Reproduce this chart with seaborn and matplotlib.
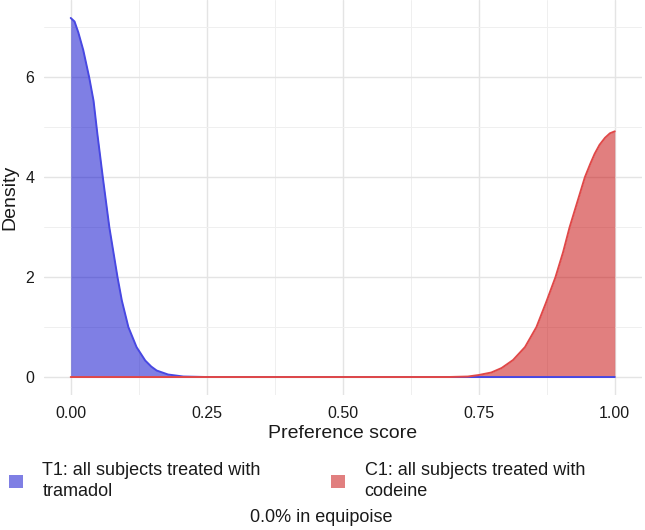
import matplotlib.pyplot as plt
import pandas as pd
import seaborn as sns
from matplotlib.patches import Patch

# density curves
score_t1 = [0.0, 0.007, 0.014, 0.023, 0.034, 0.042, 0.049, 0.059, 0.071, 0.086,
            0.094, 0.106, 0.121, 0.137, 0.148, 0.158, 0.179, 0.207, 0.25, 0.5, 0.75, 1.0]
density_t1 = [7.19, 7.12, 6.9, 6.55, 6.0, 5.53, 4.87, 4.0, 3.0, 2.0,
              1.53, 1.0, 0.6, 0.33, 0.21, 0.13, 0.05, 0.01, 0.0, 0.0, 0.0, 0.0]

score_c1 = [0.0, 0.25, 0.5, 0.694, 0.73, 0.75, 0.773, 0.792, 0.813, 0.835, 0.856,
            0.874, 0.891, 0.905, 0.917, 0.931, 0.945, 0.955, 0.963, 0.972, 0.982, 0.991, 1.0]
density_c1 = [0.0, 0.0, 0.0, 0.0, 0.01, 0.04, 0.09, 0.18, 0.34, 0.6, 1.0,
              1.5, 2.0, 2.5, 3.0, 3.5, 4.0, 4.27, 4.47, 4.65, 4.79, 4.88, 4.92]

groups = ["T1: all subjects treated with\ntramadol", "C1: all subjects treated with\ncodeine"]
fill_colors = ["#0000CB", "#C50000"]
line_colors = ["#4848E2", "#E04848"]
x_ticks = [0.0, 0.25, 0.5, 0.75, 1.0]
x_tick_labels = ["0.00", "0.25", "0.50", "0.75", "1.00"]
y_ticks = [0, 2, 4, 6]
note = "0.0% in equipoise"

sns.set_style("white")
plt.rcParams["font.family"] = ["Liberation Sans", "DejaVu Sans"]

df = pd.concat([
    pd.DataFrame({"score": score_t1, "density": density_t1, "group": groups[0]}),
    pd.DataFrame({"score": score_c1, "density": density_c1, "group": groups[1]}),
])

fig = plt.figure(figsize=(6.45, 5.3), dpi=100)
ax = fig.add_axes([43.5 / 645, 1 - 395 / 530, (642 - 43.5) / 645, 395 / 530])

for grp, fc in zip(groups, fill_colors):
    sub = df[df["group"] == grp]
    ax.fill_between(sub["score"], sub["density"], color=fc, alpha=0.5, lw=0)

sns.lineplot(data=df, x="score", y="density", hue="group", hue_order=groups,
             palette=dict(zip(groups, line_colors)), linewidth=1.4,
             legend=False, sort=False, ax=ax)

ax.set_xlim(-0.05, 1.05)
ax.set_ylim(-0.36, 7.55)
ax.set_xticks(x_ticks)
ax.set_xticklabels(x_tick_labels)
ax.set_yticks(y_ticks)
ax.set_xticks([0.125, 0.375, 0.625, 0.875], minor=True)
ax.set_yticks([1, 3, 5, 7], minor=True)
ax.set_axisbelow(True)
ax.grid(which="major", color="#E4E4E4", lw=1.0)
ax.grid(which="minor", color="#EFEFEF", lw=0.7)
for s in ax.spines.values():
    s.set_visible(False)
ax.tick_params(which="major", length=3.6, width=0.9, color="#333333",
               labelsize=11.5, labelcolor="#1A1A1A")
ax.tick_params(axis="y", pad=2.9)
ax.tick_params(axis="x", pad=4.0)
ax.tick_params(which="minor", length=0)

ax.set_xlabel("Preference score", fontsize=14, labelpad=3, color="#1A1A1A")
ax.set_ylabel("Density", fontsize=14, labelpad=5, color="#1A1A1A")

handles = [Patch(facecolor=fc, alpha=0.5, edgecolor="none") for fc in fill_colors]
leg = fig.legend(handles, groups, loc="center left", bbox_to_anchor=(9 / 645, 1 - 481 / 530),
                 ncol=2, frameon=False, borderpad=0, borderaxespad=0,
                 handlelength=0.75, handleheight=0.75, handletextpad=1.1,
                 columnspacing=3.9, fontsize=13)
for t in leg.get_texts():
    t.set_linespacing(1.3)
    t.set_color("#1A1A1A")

fig.text(321 / 645, 1 - 518 / 530, note, ha="center", va="center",
         fontsize=13, color="#1A1A1A")

fig.savefig("out.png", dpi=100)
